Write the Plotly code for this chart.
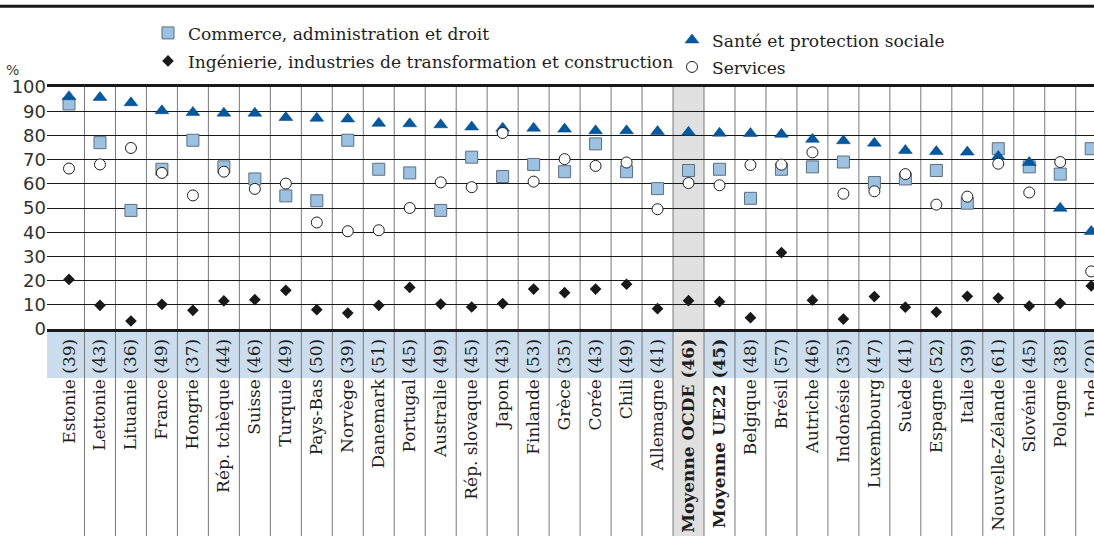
import plotly.graph_objects as go

countries = ["Estonie", "Lettonie", "Lituanie", "France", "Hongrie", "Rép. tchèque", "Suisse",
             "Turquie", "Pays-Bas", "Norvège", "Danemark", "Portugal", "Australie",
             "Rép. slovaque", "Japon", "Finlande", "Grèce", "Corée", "Chili", "Allemagne",
             "Moyenne OCDE", "Moyenne UE22", "Belgique", "Brésil", "Autriche", "Indonésie",
             "Luxembourg", "Suède", "Espagne", "Italie", "Nouvelle-Zélande", "Slovénie",
             "Pologne", "Inde"]
counts = [39, 43, 36, 49, 37, 44, 46, 49, 50, 39, 51, 45, 49, 45, 43, 53, 35, 43, 49, 41,
          46, 45, 48, 57, 46, 35, 47, 41, 52, 39, 61, 45, 38, 20]
bold = ["Moyenne OCDE", "Moyenne UE22"]

commerce = [93, 77, 49, 66, 78, 67, 62, 55, 53, 78, 66, 64.5, 49, 71, 63, 68, 65, 76.5, 65, 58,
            65.5, 66, 54, 66, 67, 69, 60.5, 62, 65.5, 52, 74.5, 67, 64, 74.5]
ingenierie = [20.5, 9.8, 3.3, 10.2, 7.7, 11.6, 12.1, 16, 8, 6.6, 9.8, 17.2, 10.3, 9.1, 10.5,
              16.5, 15, 16.5, 18.5, 8.4, 11.7, 11.3, 4.7, 31.6, 11.9, 4.1, 13.4, 9, 7, 13.5,
              12.8, 9.5, 10.6, 17.8]
sante = [96, 95.7, 93.5, 90.2, 89.5, 89.2, 89.2, 87.4, 87.1, 86.8, 85, 84.8, 84.4, 83.5, 83,
         83, 82.6, 81.9, 81.9, 81.6, 81.3, 80.9, 80.8, 80.5, 78.4, 77.8, 76.8, 73.8, 73.3,
         73.1, 71.3, 68.8, 49.9, 40.3]
services = [66.3, 68, 74.8, 64.5, 55.2, 65, 57.9, 60.1, 44, 40.4, 40.8, 50, 60.6, 58.6, 81,
            60.9, 70.2, 67.4, 68.8, 49.5, 60.3, 59.4, 67.8, 67.9, 73, 55.9, 56.9, 64, 51.4,
            54.7, 68.3, 56.4, 69, 23.8]

names = ["Commerce, administration et droit",
         "Ingénierie, industries de transformation et construction",
         "Santé et protection sociale", "Services"]
y_ticks = [0, 10, 20, 30, 40, 50, 60, 70, 80, 90, 100]

x = list(range(len(countries)))
ticktext = []
for c, n in zip(countries, counts):
    t = f"{c} ({n})"
    ticktext.append(f"<b>{t}</b>" if c in bold else t)

SERIF = "DejaVu Serif"
SANS = "DejaVu Sans"

fig = go.Figure()
fig.add_trace(go.Scatter(
    x=x, y=commerce, mode="markers", name=names[0], legend="legend",
    marker=dict(symbol="square", size=12, color="rgb(155,194,227)",
                line=dict(color="rgb(95,110,125)", width=1)), cliponaxis=False))
fig.add_trace(go.Scatter(
    x=x, y=sante, mode="markers", name=names[2], legend="legend3",
    marker=dict(symbol="triangle-up", size=12, color="rgb(0,90,163)",
                line=dict(color="rgb(0,60,120)", width=0.5)), cliponaxis=False))
fig.add_trace(go.Scatter(
    x=x, y=services, mode="markers", name=names[3], legend="legend4",
    marker=dict(symbol="circle", size=11, color="white",
                line=dict(color="rgb(30,30,30)", width=1)), cliponaxis=False))
fig.add_trace(go.Scatter(
    x=x, y=ingenierie, mode="markers", name=names[1], legend="legend2",
    marker=dict(symbol="diamond", size=9, color="rgb(25,25,25)",
                line=dict(width=0)), cliponaxis=False))

shapes = []
# blue band under axis
shapes.append(dict(type="rect", xref="paper", yref="paper", x0=0, x1=1, y0=-0.2025, y1=0,
                   fillcolor="rgb(204,222,238)", line=dict(width=0), layer="below"))
# highlighted OCDE column
io = countries.index("Moyenne OCDE")
shapes.append(dict(type="rect", xref="x", yref="paper", x0=io - 0.5, x1=io + 0.5,
                   y0=-0.86, y1=1, fillcolor="rgb(224,224,224)", line=dict(width=0),
                   layer="below"))
# column separators
for i in range(len(countries) - 1):
    shapes.append(dict(type="line", xref="x", yref="paper", x0=i + 0.5, x1=i + 0.5,
                       y0=-0.86, y1=1, line=dict(color="rgb(120,120,120)", width=1),
                       layer="below"))
# top rule
shapes.append(dict(type="line", xref="paper", yref="paper", x0=-0.05, x1=1.0,
                   y0=1.3335, y1=1.3335, line=dict(color="rgb(25,25,25)", width=3)))
fig.update_layout(shapes=shapes)

fig.update_xaxes(range=[-0.71, 33.09], tickmode="array", tickvals=x, ticktext=ticktext,
                 tickangle=-90, tickfont=dict(family=SERIF, size=17, color="rgb(30,30,30)"),
                 ticklabeloverflow="allow",
                 showgrid=False, zeroline=False, showline=True, mirror=True,
                 linecolor="rgb(25,25,25)", linewidth=3, ticks="", automargin=False)
fig.update_yaxes(range=[0, 100], tickmode="array", tickvals=y_ticks,
                 tickfont=dict(family=SANS, size=18, color="rgb(50,50,50)"),
                 showgrid=True, gridcolor="rgb(25,25,25)", gridwidth=1, zeroline=False,
                 showline=False, ticks="", automargin=False)

def leg(px, py):
    return dict(x=(px - 47) / 1047, y=(328.7 - py) / 242, xanchor="left", yanchor="middle",
                bgcolor="rgba(0,0,0,0)",
                font=dict(family=SERIF, size=17.1, color="rgb(30,30,30)"),
                itemclick=False, itemdoubleclick=False)

fig.update_layout(
    width=1094, height=536, margin=dict(l=47, r=0, t=87, b=207),
    paper_bgcolor="white", plot_bgcolor="rgba(0,0,0,0)",
    showlegend=True,
    legend=leg(148, 33), legend2=leg(148, 61), legend3=leg(672, 40), legend4=leg(672, 67),
    annotations=[dict(text="%", xref="paper", yref="paper", x=(12 - 47) / 1047,
                      y=(328.7 - 70) / 242, xanchor="center", yanchor="middle",
                      showarrow=False, font=dict(family=SANS, size=14, color="rgb(60,60,60)"))],
)

fig.write_html("out.html", config={"displayModeBar": False},
               post_script="document.body.style.margin='0';"
                           "document.body.style.overflow='hidden';")
